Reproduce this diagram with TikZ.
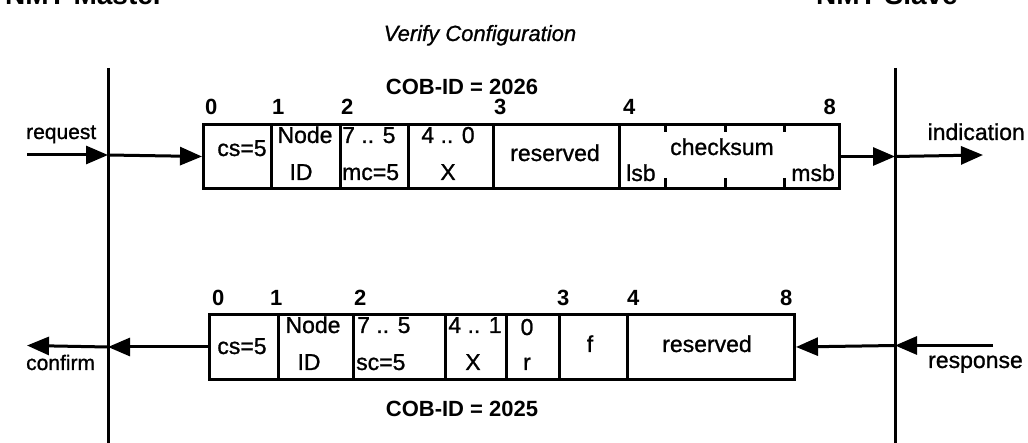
\documentclass[tikz,border=0pt]{standalone}
\usepackage{fontspec}
\setmainfont{Liberation Sans}
\newfontfamily\heavysans{Liberation Sans}[FakeBold=1]
\usetikzlibrary{arrows.meta}
\begin{document}
\begin{tikzpicture}[x=1pt,y=-1pt,
  cell/.style={draw, line width=3pt, rectangle, inner sep=0pt, anchor=north west},
  txt/.style={font=\heavysans\fontsize{23}{26}\selectfont, inner sep=0pt, anchor=base},
  txtl/.style={txt, anchor=base west},
  txtr/.style={txt, anchor=base east},
  side/.style={font=\heavysans\fontsize{21}{24}\selectfont, inner sep=0pt, anchor=base west},
  num/.style={font=\fontsize{22}{26}\selectfont\bfseries, inner sep=0pt, anchor=base west},
  numr/.style={num, anchor=base east},
  cob/.style={font=\fontsize{22}{26}\selectfont\bfseries, inner sep=0pt, anchor=base},
  title/.style={font=\fontsize{28}{32}\selectfont\bfseries, inner sep=0pt, anchor=base west},
  lifeline/.style={line width=3pt},
  flow/.style={line width=3pt, -{Triangle[length=22pt,width=18pt]}},
  tick/.style={line width=3pt}]
\useasboundingbox (0,0) rectangle (1028,443);

% headings
\node[title] (master) at (5,5) {NMT Master};
\node[title] (slave) at (816,5) {NMT Slave};
\node[txt, font=\heavysans\fontsize{22}{26}\selectfont\itshape] (svc) at (480,41) {Verify Configuration};

% the two lifelines
\coordinate (mtop) at (108,68);
\coordinate (mbot) at (108,443);
\coordinate (stop) at (895,68);
\coordinate (sbot) at (895,443);
\draw[lifeline] (mtop) -- (mbot);
\draw[lifeline] (stop) -- (sbot);

% ---------------- request frame ----------------
\node[cob] (cobreq) at (462,95) {COB-ID = 2026};
\node[num] (rq0) at (205,115) {0};
\node[num] (rq1) at (272,115) {1};
\node[num] (rq2) at (341,115) {2};
\node[num] (rq3) at (494,115) {3};
\node[num] (rq4) at (623,115) {4};
\node[numr] (rq8) at (836,115) {8};

\node[cell, minimum width=68pt,  minimum height=64pt] (t1) at (202,123) {};
\node[cell, minimum width=69pt,  minimum height=64pt] (t2) at (270,123) {};
\node[cell, minimum width=68pt,  minimum height=64pt] (t3) at (339,123) {};
\node[cell, minimum width=85pt,  minimum height=64pt] (t4) at (407,123) {};
\node[cell, minimum width=126pt, minimum height=64pt] (t5) at (492,123) {};
\node[cell, minimum width=220pt, minimum height=64pt] (t6) at (618,123) {};

\node[txt]  (t1a) at (242,156) {cs=5};
\node[txt]  (t2a) at (305,143) {Node};
\node[txt]  (t2b) at (301,180) {ID};
\node[txtl] (t3a) at (342,143) {7 .. 5};
\node[txtl] (t3b) at (342,180) {mc=5};
\node[txt]  (t4a) at (448,143) {4 .. 0};
\node[txt]  (t4b) at (448,180) {X};
\node[txt]  (t5a) at (555,161) {reserved};
\node[txt]  (t6a) at (722,155) {checksum};
\node[txtl] (t6b) at (626,181) {lsb};
\node[txtr] (t6c) at (835,181) {msb};

% byte marks inside the checksum field
\foreach \x in {665,725,784} {
  \draw[tick] (\x,123) -- (\x,132);
  \draw[tick] (\x,178) -- (\x,187);
}

\coordinate (reqin) at (27,155);
\coordinate (indout) at (983,155);
\node[side] (reqlbl) at (26,139) {request};
\node[txtr] (indlbl) at (1025,140) {indication};
\draw[flow] (reqin) -- (reqin -| mtop);
\draw[flow] (reqin -| mtop) -- (t1.west);
\draw[flow] (t6.east) -- (t6.east -| stop);
\draw[flow] (t6.east -| stop) -- (indout);

% ---------------- response frame ----------------
\node[num] (rs0) at (212,306) {0};
\node[num] (rs1) at (270,306) {1};
\node[num] (rs2) at (354,306) {2};
\node[num] (rs3) at (557,306) {3};
\node[num] (rs4) at (627,306) {4};
\node[num] (rs8) at (780,306) {8};

\node[cell, minimum width=69pt,  minimum height=65pt] (b1) at (208,313) {};
\node[cell, minimum width=75pt,  minimum height=65pt] (b2) at (277,313) {};
\node[cell, minimum width=92pt,  minimum height=65pt] (b3) at (352,313) {};
\node[cell, minimum width=61pt,  minimum height=65pt] (b4) at (444,313) {};
\node[cell, minimum width=53pt,  minimum height=65pt] (b5) at (505,313) {};
\node[cell, minimum width=68pt,  minimum height=65pt] (b6) at (558,313) {};
\node[cell, minimum width=167pt, minimum height=65pt] (b7) at (626,313) {};

\node[txt]  (b1a) at (242,354) {cs=5};
\node[txt]  (b2a) at (313,333) {Node};
\node[txt]  (b2b) at (309,370) {ID};
\node[txtl] (b3a) at (357,333) {7 .. 5};
\node[txtl] (b3b) at (356,370) {sc=5};
\node[txt]  (b4a) at (475,333) {4 .. 1};
\node[txt]  (b4b) at (473,370) {X};
\node[txt]  (b5a) at (527,335) {0};
\node[txt]  (b5b) at (527,370) {r};
\node[txt]  (b6a) at (590,352) {f};
\node[txt]  (b7a) at (707,352) {reserved};

\node[cob] (cobresp) at (462,417) {COB-ID = 2025};

\coordinate (respin) at (993,345.5);
\coordinate (confout) at (27,345.5);
\node[txtr] (resplbl) at (1023,368) {response};
\node[side] (conflbl) at (26,370) {confirm};
\draw[flow] (respin) -- (respin -| stop);
\draw[flow] (respin -| stop) -- (b7.east);
\draw[flow] (b1.west) -- (b1.west -| mtop);
\draw[flow] (b1.west -| mtop) -- (confout);
\end{tikzpicture}
\end{document}
